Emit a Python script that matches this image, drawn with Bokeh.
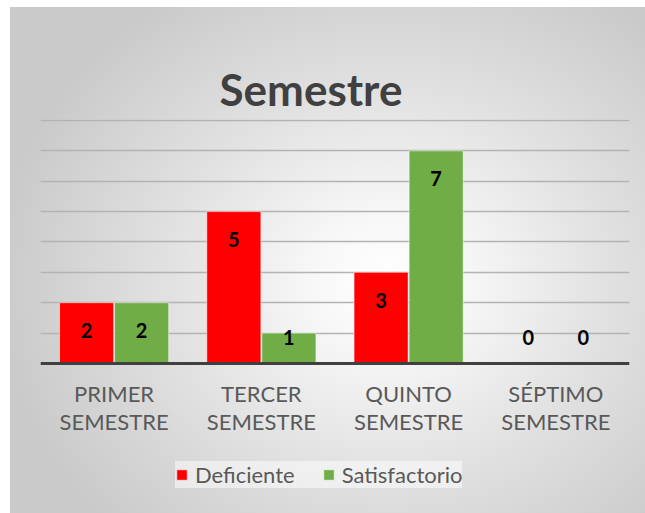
import numpy as np
from bokeh.plotting import figure
from bokeh.models import (FactorRange, Range1d, Legend, LegendItem, ColumnDataSource, FixedTicker,
                          Title)
from bokeh.transform import dodge
from bokeh.core.properties import value
from bokeh.embed import file_html
from bokeh.resources import INLINE

# ---- data ----
categories = ["PRIMER\nSEMESTRE", "TERCER\nSEMESTRE", "QUINTO\nSEMESTRE", "SÉPTIMO\nSEMESTRE"]
series = ["Deficiente", "Satisfactorio"]
deficiente = [2, 5, 3, 0]
satisfactorio = [2, 1, 7, 0]
y_ticks = [0, 1, 2, 3, 4, 5, 6, 7, 8]
colors = ["#FF0000", "#70AD47"]

d = np.array(deficiente, dtype=float)
s = np.array(satisfactorio, dtype=float)
# label positions: inside end of bar, kept above baseline for short bars
d_lab = np.maximum(d - 0.92, 0.84)
s_lab = np.maximum(s - 0.92, 0.84)

src = ColumnDataSource(dict(
    cat=categories, d=d, s=s, d_y=d_lab, s_y=s_lab,
    d_txt=[str(v) for v in deficiente], s_txt=[str(v) for v in satisfactorio],
))

# frame extends below the baseline to hold the category labels and legend
p = figure(width=645, height=513,
           x_range=FactorRange(factors=categories),
           y_range=Range1d(-4.94, 8.033),
           output_backend="svg", toolbar_location=None, title_location=None,
           min_border_left=40, min_border_right=16, min_border_top=119, min_border_bottom=0)

p.styles = {"background": (
    "linear-gradient(#ffffff, #ffffff) 0 0 / 10px 100% no-repeat, "
    "linear-gradient(#ffffff, #ffffff) 0 0 / 100% 7px no-repeat, "
    "radial-gradient(ellipse 390px 340px at 60% 55%, #ffffff 0%, #f8f8f8 18%, #e2e2e2 55%, #cacaca 100%)")}
p.background_fill_color = None
p.border_fill_color = None
p.outline_line_color = None

title = Title(text="Semestre", align="left", offset=179, vertical_align="bottom", standoff=10,
              text_font="Lato", text_font_style="bold", text_font_size="44px", text_color="#404040")
p.add_layout(title, "above")

# blank spacer between the frame and the title
spacer = Title(text=" ", standoff=0, text_font="Lato", text_font_size="38px", text_alpha=0)
p.add_layout(spacer, "above")

off = 0.187
bw = 0.367
r1 = p.vbar(x=dodge("cat", -off, range=p.x_range), top="d", width=bw, source=src,
            fill_color=colors[0], line_color="white", line_alpha=0.5, line_width=1)
r2 = p.vbar(x=dodge("cat", off, range=p.x_range), top="s", width=bw, source=src,
            fill_color=colors[1], line_color="white", line_alpha=0.5, line_width=1)

for xo, ycol, tcol in [(-off, "d_y", "d_txt"), (off, "s_y", "s_txt")]:
    p.text(x=dodge("cat", xo, range=p.x_range), y=ycol, text=tcol, source=src,
           text_align="center", text_baseline="middle",
           text_font=value("Lato"), text_font_style="bold", text_font_size="20px",
           text_color="black")

p.yaxis.visible = False
p.xgrid.grid_line_color = None
p.ygrid.ticker = FixedTicker(ticks=y_ticks)
p.ygrid.grid_line_color = "#b3b3b3"
p.ygrid.grid_line_width = 1.3

xa = p.below[0]
xa.fixed_location = 0
xa.axis_line_color = "#404040"
xa.axis_line_width = 3
xa.major_tick_line_color = None
xa.minor_tick_line_color = None
xa.major_label_text_font = "Lato"
xa.major_label_text_font_size = "22px"
xa.major_label_text_color = "#595959"
xa.major_label_text_line_height = 1.03
xa.major_label_standoff = 11

legend = Legend(items=[LegendItem(label=series[0], renderers=[r1]),
                       LegendItem(label=series[1], renderers=[r2])],
                orientation="horizontal", location=(135, 25),
                glyph_width=13, glyph_height=13, label_standoff=7, spacing=27,
                padding=18, margin=0, label_height=22,
                label_text_font="Lato", label_text_font_size="22px", label_text_color="#595959",
                background_fill_color="white", background_fill_alpha=0.5,
                border_line_color=None)
p.add_layout(legend)

open("out.html", "w").write(file_html(p, INLINE))
